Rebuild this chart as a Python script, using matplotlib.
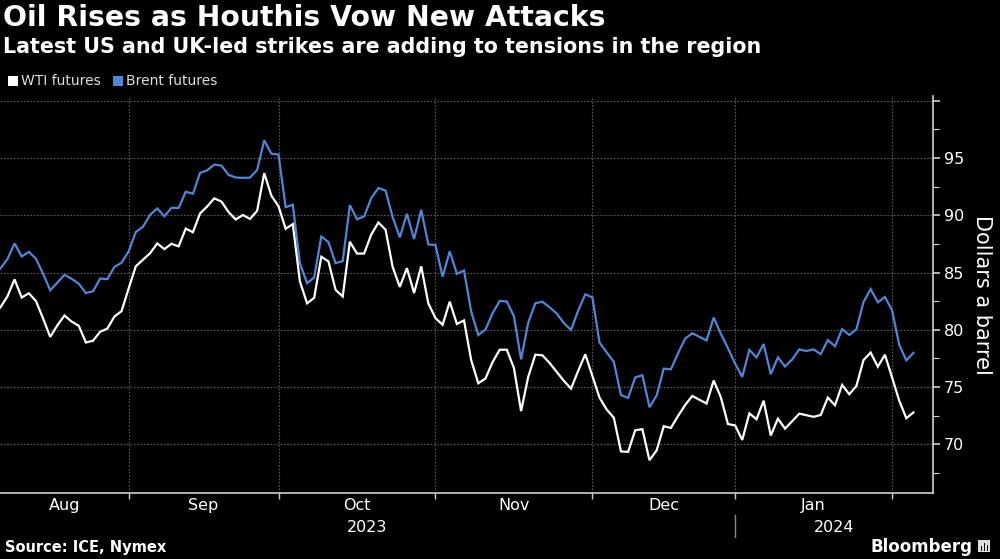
import numpy as np
import pandas as pd
import matplotlib
matplotlib.use("Agg")
import matplotlib.pyplot as plt
from matplotlib.patches import Rectangle
from matplotlib.lines import Line2D

# trading days (union of both contracts): weekdays minus Dec 25 and Jan 1
dates = pd.bdate_range("2023-08-07", "2024-02-05")
dates = dates[~dates.isin(pd.to_datetime(["2023-12-25", "2024-01-01"]))]

# WTI (None = US holiday, no settlement)
wti_aug = [81.94, 82.92, 84.40, 82.82, 83.19, 82.51, 80.99, 79.38, 80.39, 81.25,
           80.72, 80.35, 78.89, 79.05, 79.83, 80.10, 81.16, 81.63, 83.63]
wti_sep = [85.55, None, 86.69, 87.54, 87.05, 87.51, 87.29, 88.84, 88.52, 90.16,
           90.77, 91.48, 91.20, 90.28, 89.63, 90.03, 89.68, 90.39, 93.68, 91.71, 90.79]
wti_oct = [88.82, 89.23, 84.22, 82.31, 82.79, 86.38, 85.97, 83.49, 82.91, 87.69,
           86.66, 86.66, 88.32, 89.37, 88.75, 85.49, 83.74, 85.39, 83.21, 85.54, 82.31, 81.02]
wti_nov = [80.44, 82.46, 80.51, 80.82, 77.37, 75.33, 75.74, 77.17, 78.26, 78.26,
           76.66, 72.90, 75.89, 77.83, 77.77, 77.10, None, 75.54, 74.86, 76.41, 77.86, 75.96]
wti_dec = [74.07, 73.04, 72.32, 69.38, 69.34, 71.23, 71.32, 68.61, 69.47, 71.58,
           71.43, 72.47, 73.44, 74.22, 73.89, 73.56, 75.57, 74.11, 71.77, 71.65]
wti_jan = [70.38, 72.70, 72.19, 73.81, 70.77, 72.24, 71.37, 72.02, 72.68, None,
           72.40, 72.56, 74.08, 73.41, 75.19, 74.37, 75.09, 77.36, 78.01, 76.78, 77.82, 75.85]
wti_feb = [73.82, 72.28, 72.78]

brent_aug = [85.34, 86.17, 87.55, 86.40, 86.81, 86.21, 84.89, 83.45, 84.12, 84.80,
             84.46, 84.03, 83.21, 83.36, 84.48, 84.42, 85.49, 85.86, 86.86]
brent_sep = [88.55, 89.00, 90.04, 90.60, 89.92, 90.65, 90.64, 92.06, 91.88, 93.70,
             93.93, 94.43, 94.34, 93.53, 93.30, 93.27, 93.29, 93.96, 96.55, 95.38, 95.31]
brent_oct = [90.71, 90.92, 85.81, 84.07, 84.58, 88.15, 87.65, 85.82, 86.00, 90.89,
             89.65, 89.90, 91.50, 92.38, 92.16, 89.83, 88.07, 90.13, 87.93, 90.48, 87.45, 87.41]
brent_nov = [84.63, 86.85, 84.89, 85.18, 81.61, 79.54, 80.01, 81.43, 82.52, 82.47,
             81.18, 77.42, 80.61, 82.32, 82.45, 81.96, 81.42, 80.58, 79.98, 81.68, 83.10, 82.83]
brent_dec = [78.88, 78.03, 77.20, 74.30, 74.05, 75.84, 76.03, 73.24, 74.26, 76.61,
             76.55, 77.95, 79.23, 79.70, 79.39, 79.07, 81.07, 79.65, 78.39, 77.04]
brent_jan = [75.89, 78.25, 77.59, 78.76, 76.12, 77.59, 76.80, 77.41, 78.29, 78.15,
             78.29, 77.88, 79.10, 78.56, 80.06, 79.55, 80.04, 82.43, 83.55, 82.40, 82.87, 81.71]
brent_feb = [78.70, 77.33, 77.99]

month_names = ["Aug", "Sep", "Oct", "Nov", "Dec", "Jan"]
year_names = ["2023", "2024"]

wti = wti_aug + wti_sep + wti_oct + wti_nov + wti_dec + wti_jan + wti_feb
brent = brent_aug + brent_sep + brent_oct + brent_nov + brent_dec + brent_jan + brent_feb

df = pd.DataFrame({"wti": wti, "brent": brent}, index=dates, dtype=float)
df["i"] = np.arange(len(df))

BG = "#000000"
FG = "#ffffff"
GRID = "#5a5a5a"
AXC = "#cfcfcf"
BLUE = "#4f86d6"

fig = plt.figure(figsize=(10, 5.59), dpi=100, facecolor=BG)
ax = fig.add_axes([0.0, 0.1175, 0.933, 0.7108], facecolor=BG)

w = df.dropna(subset=["wti"])
ax.plot(df["i"], df["brent"], color=BLUE, lw=1.6, solid_joinstyle="miter", zorder=3)
ax.plot(w["i"], w["wti"], color=FG, lw=1.6, solid_joinstyle="miter", zorder=4)

xmin, xmax = -0.04, 130.74
ax.set_xlim(xmin, xmax)
ax.set_ylim(65.72, 100.42)

# month boundaries = last trading day of each month
ends = df.groupby(df.index.to_period("M"))["i"].max().values[:-1]
ax.set_xticks(ends)
ax.set_xticklabels([])
ax.tick_params(axis="x", direction="out", length=4, width=1, color=AXC)

bounds = [xmin] + list(ends)
xt = ax.get_xaxis_transform()
for k, name in enumerate(month_names):
    ax.text((bounds[k] + bounds[k + 1]) / 2, -0.03, name, transform=xt,
            ha="center", va="center", color=FG, fontsize=11.5)
jan_edge = ends[4]
ax.text((xmin + jan_edge) / 2, -0.085, year_names[0], transform=xt,
        ha="center", va="center", color=FG, fontsize=11.5)
ax.text((jan_edge + xmax) / 2, -0.085, year_names[1], transform=xt,
        ha="center", va="center", color=FG, fontsize=11.5)
ax.add_line(Line2D([jan_edge, jan_edge], [-0.055, -0.11], transform=xt,
                   color="#888888", lw=1, clip_on=False))

ax.yaxis.tick_right()
ax.set_yticks([70, 75, 80, 85, 90, 95, 100])
ax.set_yticklabels(["70", "75", "80", "85", "90", "95", ""])
ax.set_yticks(np.arange(67.5, 100, 5), minor=True)
ax.tick_params(axis="y", which="major", direction="out", length=5, width=1.2,
               color=AXC, labelcolor=FG, labelsize=11.5, pad=3)
ax.tick_params(axis="y", which="minor", direction="out", length=4, width=0.8, color=AXC)
ax.yaxis.set_label_position("right")
ax.set_ylabel("Dollars a barrel", color=FG, fontsize=15, rotation=270, labelpad=20)

ax.grid(True, which="major", color=GRID, ls=(0, (1.5, 1.5)), lw=0.8)
for s in ["top", "left"]:
    ax.spines[s].set_visible(False)
ax.spines["right"].set_color(AXC)
ax.spines["bottom"].set_color(AXC)
ax.spines["right"].set_linewidth(1.2)
ax.spines["bottom"].set_linewidth(1.2)

fig.text(0.003, 0.993, "Oil Rises as Houthis Vow New Attacks", color=FG,
         fontsize=20.3, fontweight="bold", ha="left", va="top")
fig.text(0.003, 0.934, "Latest US and UK-led strikes are adding to tensions in the region",
         color=FG, fontsize=14.9, fontweight="bold", ha="left", va="top")

fig.patches.append(Rectangle((0.008, 0.846), 0.010, 0.018, transform=fig.transFigure,
                             facecolor=FG, edgecolor="none"))
fig.text(0.021, 0.855, "WTI futures", color="#dddddd", fontsize=10, va="center")
fig.patches.append(Rectangle((0.113, 0.846), 0.010, 0.018, transform=fig.transFigure,
                             facecolor=BLUE, edgecolor="none"))
fig.text(0.126, 0.855, "Brent futures", color="#dddddd", fontsize=10, va="center")

fig.text(0.005, 0.02, "Source: ICE, Nymex", color=FG, fontsize=10.5,
         fontweight="bold", va="center")
fig.text(0.972, 0.022, "Bloomberg", color=FG, fontsize=12, fontweight="bold",
         ha="right", va="center")
fig.patches.append(Rectangle((0.978, 0.012), 0.012, 0.022, transform=fig.transFigure,
                             facecolor="#dddddd", edgecolor="none"))
for bx, bh in [(0.9805, 0.008), (0.9835, 0.013), (0.9865, 0.010)]:
    fig.patches.append(Rectangle((bx, 0.015), 0.0015, bh, transform=fig.transFigure,
                                 facecolor=BG, edgecolor="none"))

fig.savefig("out.png", dpi=100, facecolor=BG)
